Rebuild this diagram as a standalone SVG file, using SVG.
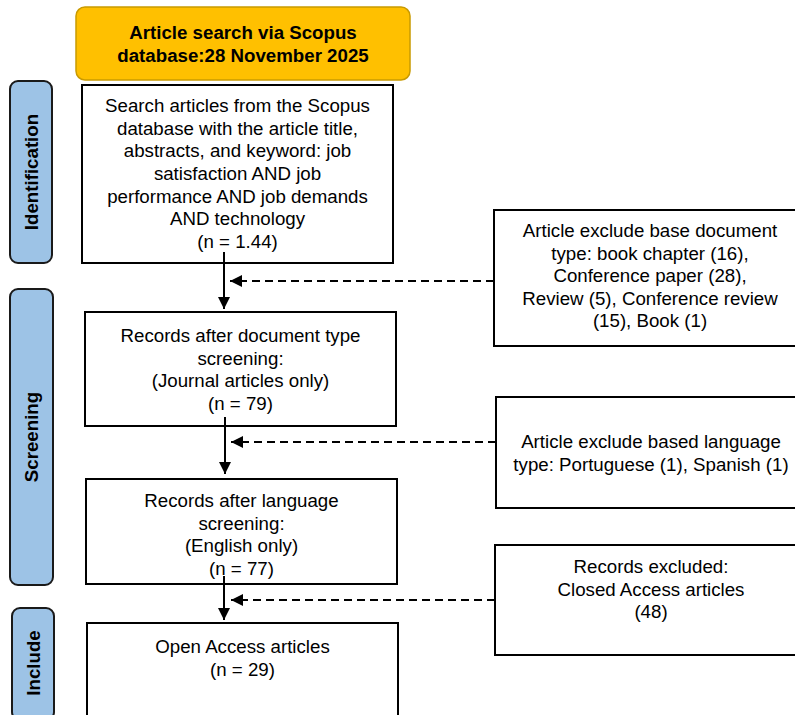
<svg xmlns="http://www.w3.org/2000/svg" width="795" height="715" viewBox="0 0 795 715">
<defs>
<style>
text{font-family:"Liberation Sans",Arial,sans-serif;font-size:18.7px;fill:#000;text-anchor:middle}
.b{font-weight:bold}
.box{fill:#fff;stroke:#000;stroke-width:2}
.side{fill:#9DC3E6;stroke:#1a1a1a;stroke-width:2}
.hdr{fill:#FFC000;stroke:#C99A00;stroke-width:1.5}
.sol{stroke:#000;stroke-width:2;fill:none}
.dash{stroke:#000;stroke-width:2;fill:none;stroke-dasharray:8 5}
</style>
<marker id="ah" viewBox="0 0 12 12" refX="12" refY="6" markerWidth="12" markerHeight="12" markerUnits="userSpaceOnUse" orient="auto">
<path d="M0,0 L12,6 L0,12 Z" fill="#000"/>
</marker>
</defs>
<g id="header">
<rect class="hdr" x="76" y="7" width="334" height="73" rx="9"/>
<text class="b" x="243" y="39">Article search via Scopus</text>
<text class="b" x="243" y="62">database:28 November 2025</text>
</g>
<g id="side-identification">
<rect class="side" x="10" y="81" width="42" height="182" rx="8"/>
<text class="b" transform="translate(38,172) rotate(-90)">Identification</text>
</g>
<g id="side-screening">
<rect class="side" x="10" y="289" width="43" height="296" rx="8"/>
<text class="b" transform="translate(38,437) rotate(-90)">Screening</text>
</g>
<g id="side-include">
<rect class="side" x="12" y="608" width="42" height="112" rx="8"/>
<text class="b" transform="translate(40,663) rotate(-90)">Include</text>
</g>
<g id="box-search">
<rect class="box" x="82" y="85" width="311" height="178"/>
<text x="237.5" y="112">Search articles from the Scopus</text>
<text x="237.5" y="135">database with the article title,</text>
<text x="237.5" y="157">abstracts, and keyword: job</text>
<text x="237.5" y="180">satisfaction AND job</text>
<text x="237.5" y="203">performance AND job demands</text>
<text x="237.5" y="225">AND technology</text>
<text x="237.5" y="248">(n = 1.44)</text>
</g>
<g id="box-doctype">
<rect class="box" x="85" y="312" width="311" height="114"/>
<text x="240.5" y="342">Records after document type</text>
<text x="240.5" y="365">screening:</text>
<text x="240.5" y="387">(Journal articles only)</text>
<text x="240.5" y="410">(n = 79)</text>
</g>
<g id="box-language">
<rect class="box" x="86" y="479" width="311" height="105"/>
<text x="241.5" y="507">Records after language</text>
<text x="241.5" y="530">screening:</text>
<text x="241.5" y="552">(English only)</text>
<text x="241.5" y="575">(n = 77)</text>
</g>
<g id="box-open">
<rect class="box" x="87" y="623" width="311" height="100"/>
<text x="242.5" y="653">Open Access articles</text>
<text x="242.5" y="676">(n = 29)</text>
</g>
<g id="excl-doctype">
<rect class="box" x="494" y="210" width="312" height="136"/>
<text x="650" y="237">Article exclude base document</text>
<text x="650" y="260">type: book chapter (16),</text>
<text x="650" y="282">Conference paper (28),</text>
<text x="650" y="305">Review (5), Conference review</text>
<text x="650" y="327">(15), Book (1)</text>
</g>
<g id="excl-language">
<rect class="box" x="496" y="397" width="312" height="111"/>
<text x="651" y="448">Article exclude based language</text>
<text x="651" y="471">type: Portuguese (1), Spanish (1)</text>
</g>
<g id="excl-closed">
<rect class="box" x="495" y="545" width="312" height="110"/>
<text x="651" y="573">Records excluded:</text>
<text x="651" y="596">Closed Access articles</text>
<text x="651" y="618">(48)</text>
</g>
<g id="connectors">
<line class="sol" x1="224" y1="252" x2="224" y2="309" marker-end="url(#ah)"/>
<line class="sol" x1="225" y1="417" x2="225" y2="474" marker-end="url(#ah)"/>
<line class="sol" x1="224" y1="576" x2="224" y2="620" marker-end="url(#ah)"/>
<line class="dash" x1="494" y1="281" x2="230" y2="281" marker-end="url(#ah)"/>
<line class="dash" x1="496" y1="442" x2="231" y2="442" marker-end="url(#ah)"/>
<line class="dash" x1="495" y1="600" x2="231" y2="600" marker-end="url(#ah)"/>
</g>
</svg>
